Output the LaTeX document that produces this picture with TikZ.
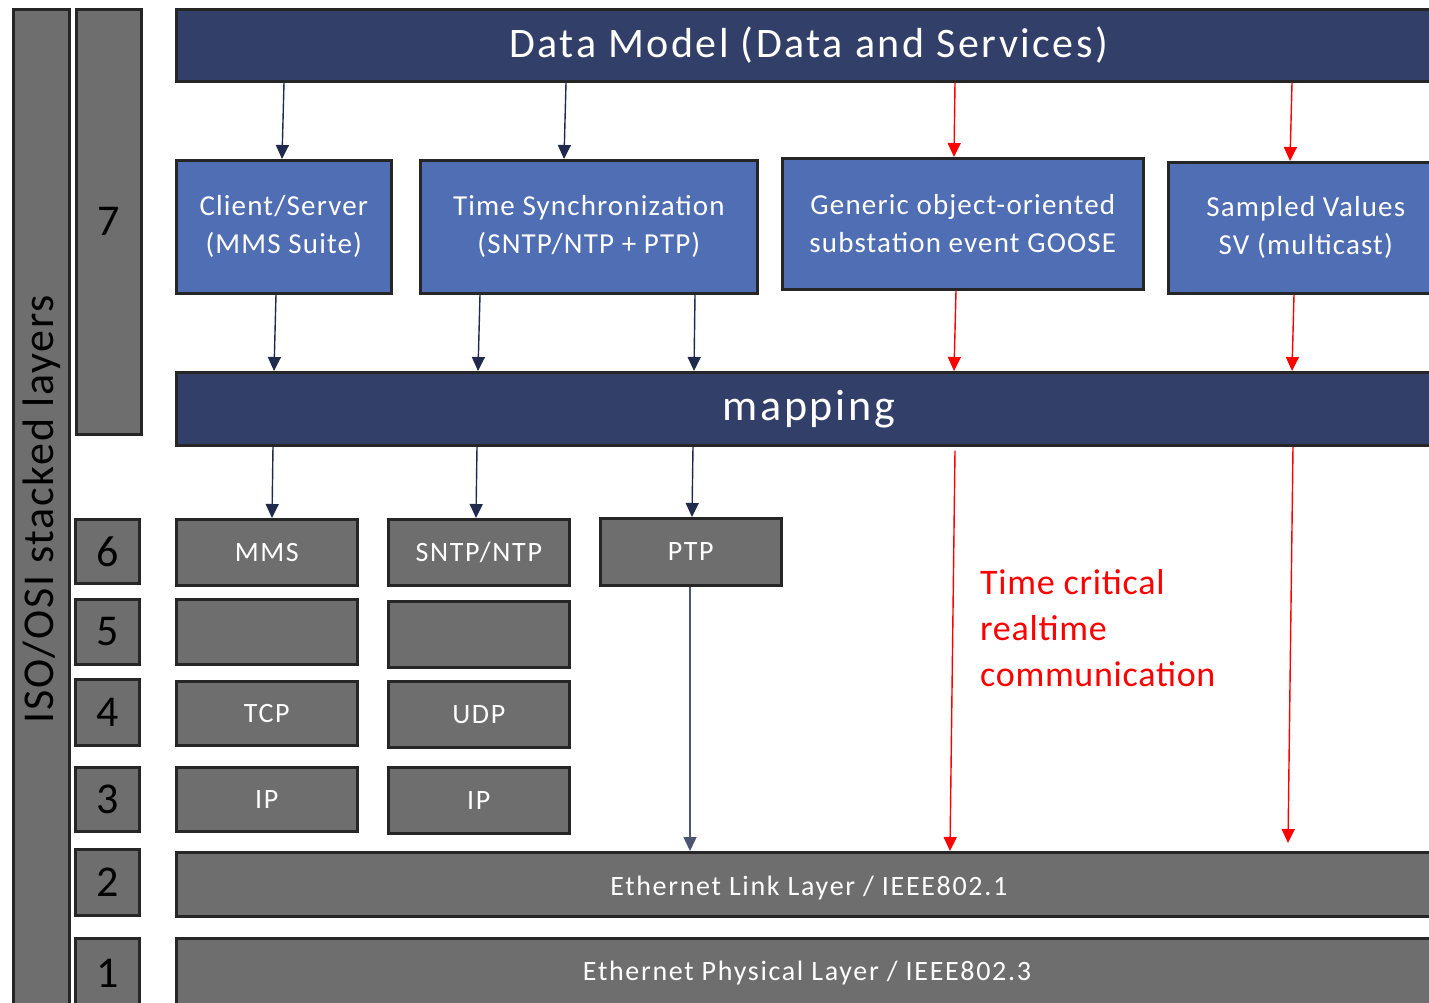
\documentclass[tikz,border=0pt]{standalone}
\usepackage{fontspec}
\setmainfont{Carlito}
\usetikzlibrary{arrows.meta}
\definecolor{navy}{HTML}{323F68}
\definecolor{bluebox}{HTML}{4F6EB3}
\definecolor{grayb}{HTML}{6E6E6E}
\definecolor{edge}{HTML}{262626}
\definecolor{arrnavy}{HTML}{1F2A4D}
\definecolor{redc}{HTML}{FF0000}
\tikzset{
  base/.style={draw=edge, line width=2.6pt, anchor=north west, inner sep=0pt, align=center},
  navybar/.style={base, fill=navy, text=white, font=\fontsize{42}{50}\selectfont\addfontfeatures{LetterSpace=6}},
  bluebx/.style={base, fill=bluebox, text=white, font=\fontsize{29}{38}\selectfont\addfontfeatures{LetterSpace=4}},
  graybx/.style={base, fill=grayb, text=white, font=\fontsize{28}{34}\selectfont\addfontfeatures{LetterSpace=6}},
  layerbx/.style={base, fill=grayb, text=black, font=\fontsize{44}{50}\selectfont},
  arr/.style={draw=arrnavy, line width=1.4pt, -{Triangle[width=13pt,length=14pt]}},
  rarr/.style={draw=redc, line width=1.4pt, -{Triangle[width=13pt,length=14pt]}},
}
\begin{document}
\begin{tikzpicture}[x=1pt,y=-1pt]
\useasboundingbox (0,0) rectangle (1429,1002);
\clip (0,0) rectangle (1429,1002);
% left bar and layer numbers
\node[layerbx, minimum width=56, minimum height=1000] (iso) at (12,8) {};
\node[rotate=90, font=\fontsize{44}{50}\selectfont\addfontfeatures{LetterSpace=4}, text=black] (isotxt) at (iso.center) {ISO/OSI stacked layers};
\node[layerbx, minimum width=65, minimum height=425] (l7) at (75,8) {7};
\node[layerbx, minimum width=64, minimum height=64] (l6) at (74,518) {6};
\node[layerbx, minimum width=64, minimum height=65] (l5) at (74,598) {5};
\node[layerbx, minimum width=64, minimum height=66] (l4) at (74,678) {4};
\node[layerbx, minimum width=64, minimum height=64] (l3) at (74,766) {3};
\node[layerbx, minimum width=64, minimum height=66] (l2) at (74,848) {2};
\node[layerbx, minimum width=64, minimum height=70] (l1) at (74,937) {1};
% top bars
\node[navybar, minimum width=1265, minimum height=72] (dm) at (175,8) {Data Model (Data and Services)};
\node[bluebx, minimum width=215, minimum height=133] (cs) at (175,159) {Client/Server\\(MMS Suite)};
\node[bluebx, minimum width=337, minimum height=133] (ts) at (419,159) {Time Synchronization\\(SNTP/NTP + PTP)};
\node[bluebx, minimum width=361, minimum height=131] (go) at (781,157) {Generic object-oriented\\substation event GOOSE};
\node[bluebx, minimum width=275, minimum height=131] (sv) at (1167,161) {Sampled Values\\SV (multicast)};
\node[navybar, minimum width=1265, minimum height=73, font=\fontsize{44}{50}\selectfont\addfontfeatures{LetterSpace=6}] (map) at (175,371) {mapping};
% protocol boxes
\node[graybx, minimum width=181, minimum height=66] (mms) at (175,518) {MMS};
\node[graybx, minimum width=181, minimum height=66] (sntp) at (387,518) {SNTP/NTP};
\node[graybx, minimum width=181, minimum height=67] (ptp) at (599,517) {PTP};
\node[graybx, minimum width=181, minimum height=65] (s5a) at (175,598) {};
\node[graybx, minimum width=181, minimum height=66] (s5b) at (387,600) {};
\node[graybx, minimum width=181, minimum height=64] (tcp) at (175,680) {TCP};
\node[graybx, minimum width=181, minimum height=66] (udp) at (387,680) {UDP};
\node[graybx, minimum width=181, minimum height=64] (ipa) at (175,766) {IP};
\node[graybx, minimum width=181, minimum height=66] (ipb) at (387,766) {IP};
\node[graybx, minimum width=1265, minimum height=64, text depth=0pt] (eth2) at (175,851) {\raisebox{-3pt}{Ethernet Link Layer / IEEE802.1}};
\node[graybx, minimum width=1265, minimum height=80] (eth1) at (175,937) {};
\node[font=\fontsize{28}{34}\selectfont\addfontfeatures{LetterSpace=6}, text=white] (eth1t) at (807,973) {Ethernet Physical Layer / IEEE802.3};
% red label
\node[anchor=north west, align=left, text=redc, inner sep=0pt, font=\fontsize{36}{46}\selectfont\addfontfeatures{LetterSpace=2}] (tc) at (980,569) {Time critical\\realtime\\communication};
% arrows data model -> services
\draw[arr] (dm.south -| 284,0) -- (cs.north -| 282,0);
\draw[arr] (dm.south -| 566,0) -- (ts.north -| 564,0);
\draw[rarr] (dm.south -| 955,0) -- (go.north -| 954,0);
\draw[rarr] (dm.south -| 1292,0) -- (sv.north -| 1290,0);
% services -> mapping
\draw[arr] (cs.south -| 276,0) -- (map.north -| 274,0);
\draw[arr] (ts.south -| 480,0) -- (map.north -| 478,0);
\draw[arr] (ts.south -| 695,0) -- (map.north -| 694,0);
\draw[rarr] (go.south -| 956,0) -- (map.north -| 954,0);
\draw[rarr] (sv.south -| 1294,0) -- (map.north -| 1292,0);
% mapping -> protocols
\draw[arr] (map.south -| 273,0) -- (mms.north -| 272,0);
\draw[arr] (map.south -| 477,0) -- (sntp.north -| 476,0);
\draw[arr] (map.south -| 693,0) -- (ptp.north -| 692,0);
% to ethernet
\draw[arr, draw=arrnavy!80] (ptp.south -| 690,0) -- (eth2.north -| 690,0);
\draw[rarr] ([yshift=-4]map.south -| 955,0) -- (eth2.north -| 950,0);
\draw[rarr] (map.south -| 1293,0) -- ([yshift=8]eth2.north -| 1288,0);
\end{tikzpicture}
\end{document}
